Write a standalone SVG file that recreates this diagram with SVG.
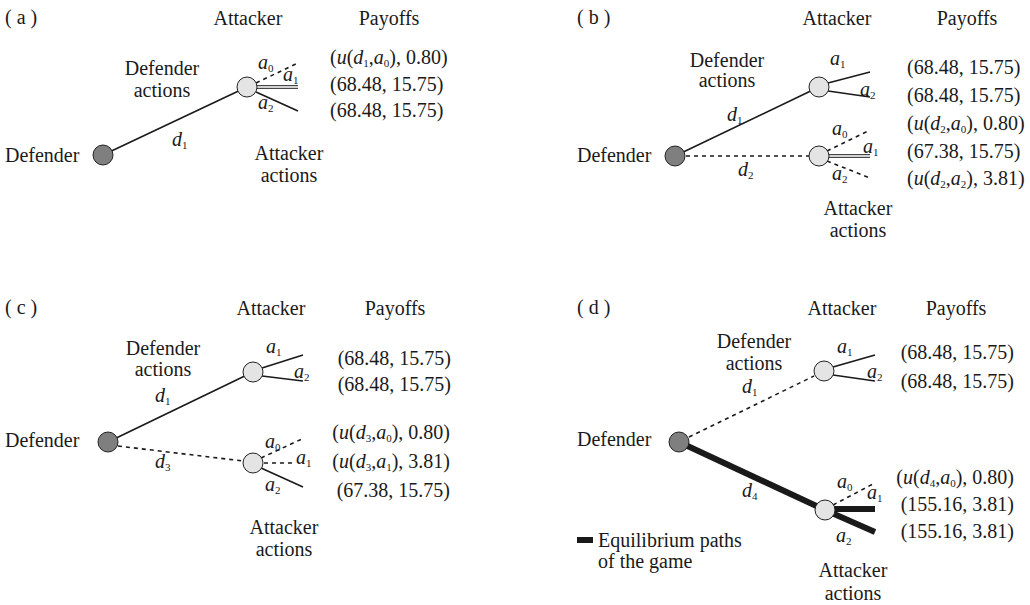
<svg xmlns="http://www.w3.org/2000/svg" width="1030" height="605" viewBox="0 0 1030 605" font-family="'Liberation Serif', serif">
<style>
text{font-family:'Liberation Serif','Tinos','Times New Roman','DejaVu Serif',serif;font-size:20px;fill:#1a1a1a}
.m{text-anchor:middle}
.e{text-anchor:end}
.i{font-style:italic}
.s{font-size:11px;font-style:normal}
.sol{stroke:#1a1a1a;stroke-width:1.6;fill:none}
.dash{stroke:#1a1a1a;stroke-width:1.6;fill:none;stroke-dasharray:4 4}
.dbl{stroke:#1a1a1a;stroke-width:1;fill:none}
.thick{stroke:#1a1a1a;stroke-width:6;fill:none}
.def{fill:#7f7f7f;stroke:#222;stroke-width:1}
.att{fill:#e4e4e4;stroke:#222;stroke-width:1}
</style>
<rect width="1030" height="605" fill="#fff"/>

<!-- ========== Panel (a) ========== -->
<g id="panel-a">
<text x="5" y="24">( a )</text>
<text class="m" x="248" y="25">Attacker</text>
<text class="m" x="389" y="25">Payoffs</text>
<text class="m" x="162" y="75">Defender</text>
<text class="m" x="162" y="97">actions</text>
<text class="m" x="289" y="160">Attacker</text>
<text class="m" x="289" y="182">actions</text>
<text x="172" y="146"><tspan class="i">d</tspan><tspan class="s" dy="3">1</tspan></text>
<text x="258" y="69"><tspan class="i">a</tspan><tspan class="s" dy="3">0</tspan></text>
<text x="283" y="81"><tspan class="i">a</tspan><tspan class="s" dy="3">1</tspan></text>
<text x="258" y="109"><tspan class="i">a</tspan><tspan class="s" dy="3">2</tspan></text>
<text x="330" y="64">(<tspan class="i">u</tspan>(<tspan class="i">d</tspan><tspan class="s" dy="3">1</tspan><tspan dy="-3">,</tspan><tspan class="i">a</tspan><tspan class="s" dy="3">0</tspan><tspan dy="-3">), 0.80)</tspan></text>
<text x="330" y="91">(68.48, 15.75)</text>
<text x="330" y="117">(68.48, 15.75)</text>
</g>
<g id="connectors-a">
<line class="sol" x1="103" y1="155" x2="247" y2="87"/>
<line class="dash" x1="256" y1="83" x2="298" y2="63"/>
<line class="dbl" x1="257" y1="85.7" x2="298" y2="85.7"/>
<line class="dbl" x1="257" y1="88.3" x2="298" y2="88.3"/>
<line class="sol" x1="256" y1="92" x2="298" y2="111"/>
</g>
<g id="node-a-defender"><circle class="def" cx="103" cy="155" r="10"/><text x="5" y="162">Defender</text></g>
<g id="node-a-attacker"><circle class="att" cx="247" cy="87" r="10"/></g>

<!-- ========== Panel (b) ========== -->
<g id="panel-b">
<text x="577" y="24">( b )</text>
<text class="m" x="837" y="25">Attacker</text>
<text class="m" x="967" y="25">Payoffs</text>
<text class="m" x="727" y="67">Defender</text>
<text class="m" x="727" y="87">actions</text>
<text class="m" x="858" y="215">Attacker</text>
<text class="m" x="858" y="237">actions</text>
<text x="727" y="121"><tspan class="i">d</tspan><tspan class="s" dy="3">1</tspan></text>
<text x="738" y="176"><tspan class="i">d</tspan><tspan class="s" dy="3">2</tspan></text>
<text x="830" y="65"><tspan class="i">a</tspan><tspan class="s" dy="3">1</tspan></text>
<text x="860" y="96"><tspan class="i">a</tspan><tspan class="s" dy="3">2</tspan></text>
<text x="832" y="135"><tspan class="i">a</tspan><tspan class="s" dy="3">0</tspan></text>
<text x="863" y="153"><tspan class="i">a</tspan><tspan class="s" dy="3">1</tspan></text>
<text x="832" y="180"><tspan class="i">a</tspan><tspan class="s" dy="3">2</tspan></text>
<text x="907" y="74">(68.48, 15.75)</text>
<text x="907" y="102">(68.48, 15.75)</text>
<text x="907" y="130">(<tspan class="i">u</tspan>(<tspan class="i">d</tspan><tspan class="s" dy="3">2</tspan><tspan dy="-3">,</tspan><tspan class="i">a</tspan><tspan class="s" dy="3">0</tspan><tspan dy="-3">), 0.80)</tspan></text>
<text x="907" y="158">(67.38, 15.75)</text>
<text x="907" y="185">(<tspan class="i">u</tspan>(<tspan class="i">d</tspan><tspan class="s" dy="3">2</tspan><tspan dy="-3">,</tspan><tspan class="i">a</tspan><tspan class="s" dy="3">2</tspan><tspan dy="-3">), 3.81)</tspan></text>
</g>
<g id="connectors-b">
<line class="sol" x1="675" y1="156" x2="819" y2="87"/>
<line class="dash" x1="686" y1="156" x2="809" y2="156"/>
<line class="sol" x1="828" y1="83" x2="870" y2="72"/>
<line class="sol" x1="828" y1="91" x2="870" y2="97"/>
<line class="dash" x1="827" y1="151" x2="870" y2="130"/>
<line class="dbl" x1="829" y1="154.7" x2="870" y2="154.7"/>
<line class="dbl" x1="829" y1="157.3" x2="870" y2="157.3"/>
<line class="dash" x1="827" y1="161" x2="870" y2="178"/>
</g>
<g id="node-b-defender"><circle class="def" cx="675" cy="156" r="10"/><text x="577" y="162">Defender</text></g>
<g id="node-b-attacker1"><circle class="att" cx="819" cy="87" r="10"/></g>
<g id="node-b-attacker2"><circle class="att" cx="819" cy="156" r="10"/></g>

<!-- ========== Panel (c) ========== -->
<g id="panel-c">
<text x="5" y="314">( c )</text>
<text class="m" x="271" y="315">Attacker</text>
<text class="m" x="395" y="315">Payoffs</text>
<text class="m" x="163" y="355">Defender</text>
<text class="m" x="163" y="376">actions</text>
<text class="m" x="284" y="534">Attacker</text>
<text class="m" x="284" y="556">actions</text>
<text x="155" y="402"><tspan class="i">d</tspan><tspan class="s" dy="3">1</tspan></text>
<text x="155" y="468"><tspan class="i">d</tspan><tspan class="s" dy="3">3</tspan></text>
<text x="266" y="353"><tspan class="i">a</tspan><tspan class="s" dy="3">1</tspan></text>
<text x="294" y="378"><tspan class="i">a</tspan><tspan class="s" dy="3">2</tspan></text>
<text x="265" y="448"><tspan class="i">a</tspan><tspan class="s" dy="3">0</tspan></text>
<text x="296" y="464"><tspan class="i">a</tspan><tspan class="s" dy="3">1</tspan></text>
<text x="265" y="491"><tspan class="i">a</tspan><tspan class="s" dy="3">2</tspan></text>
<text class="e" x="451" y="365">(68.48, 15.75)</text>
<text class="e" x="451" y="391">(68.48, 15.75)</text>
<text class="e" x="450" y="439">(<tspan class="i">u</tspan>(<tspan class="i">d</tspan><tspan class="s" dy="3">3</tspan><tspan dy="-3">,</tspan><tspan class="i">a</tspan><tspan class="s" dy="3">0</tspan><tspan dy="-3">), 0.80)</tspan></text>
<text class="e" x="450" y="468">(<tspan class="i">u</tspan>(<tspan class="i">d</tspan><tspan class="s" dy="3">3</tspan><tspan dy="-3">,</tspan><tspan class="i">a</tspan><tspan class="s" dy="3">1</tspan><tspan dy="-3">), 3.81)</tspan></text>
<text class="e" x="450" y="497">(67.38, 15.75)</text>
</g>
<g id="connectors-c">
<line class="sol" x1="108" y1="442" x2="253" y2="372"/>
<line class="dash" x1="118" y1="446" x2="243" y2="461"/>
<line class="sol" x1="262" y1="368" x2="303" y2="355"/>
<line class="sol" x1="262" y1="376" x2="303" y2="381"/>
<line class="dash" x1="261" y1="458" x2="304" y2="438"/>
<line class="dash" x1="264" y1="463" x2="294" y2="463"/>
<line class="sol" x1="261" y1="468" x2="303" y2="487"/>
</g>
<g id="node-c-defender"><circle class="def" cx="108" cy="442" r="10"/><text x="5" y="447">Defender</text></g>
<g id="node-c-attacker1"><circle class="att" cx="253" cy="372" r="10"/></g>
<g id="node-c-attacker2"><circle class="att" cx="253" cy="463" r="10"/></g>

<!-- ========== Panel (d) ========== -->
<g id="panel-d">
<text x="577" y="314">( d )</text>
<text class="m" x="842" y="315">Attacker</text>
<text class="m" x="956" y="315">Payoffs</text>
<text class="m" x="754" y="348">Defender</text>
<text class="m" x="754" y="370">actions</text>
<text class="m" x="853" y="577">Attacker</text>
<text class="m" x="853" y="600">actions</text>
<text x="742" y="393"><tspan class="i">d</tspan><tspan class="s" dy="3">1</tspan></text>
<text x="742" y="497"><tspan class="i">d</tspan><tspan class="s" dy="3">4</tspan></text>
<text x="837" y="353"><tspan class="i">a</tspan><tspan class="s" dy="3">1</tspan></text>
<text x="867" y="378"><tspan class="i">a</tspan><tspan class="s" dy="3">2</tspan></text>
<text x="837" y="488"><tspan class="i">a</tspan><tspan class="s" dy="3">0</tspan></text>
<text x="867" y="499"><tspan class="i">a</tspan><tspan class="s" dy="3">1</tspan></text>
<text x="836" y="542"><tspan class="i">a</tspan><tspan class="s" dy="3">2</tspan></text>
<text class="e" x="1014" y="359">(68.48, 15.75)</text>
<text class="e" x="1014" y="388">(68.48, 15.75)</text>
<text class="e" x="1014" y="484">(<tspan class="i">u</tspan>(<tspan class="i">d</tspan><tspan class="s" dy="3">4</tspan><tspan dy="-3">,</tspan><tspan class="i">a</tspan><tspan class="s" dy="3">0</tspan><tspan dy="-3">), 0.80)</tspan></text>
<text class="e" x="1014" y="511">(155.16, 3.81)</text>
<text class="e" x="1014" y="538">(155.16, 3.81)</text>
<text x="598" y="547">Equilibrium paths</text>
<text x="598" y="568">of the game</text>
</g>
<g id="connectors-d">
<line class="dash" x1="689" y1="437" x2="814" y2="376"/>
<line class="thick" x1="679" y1="442" x2="825" y2="510"/>
<line class="sol" x1="833" y1="367" x2="875" y2="355"/>
<line class="sol" x1="833" y1="375" x2="875" y2="381"/>
<line class="dash" x1="833" y1="505" x2="873" y2="484"/>
<line class="thick" x1="830" y1="509" x2="875" y2="509"/>
<line class="thick" x1="825" y1="510" x2="875" y2="532"/>
<line class="thick" x1="577" y1="540" x2="593" y2="540"/>
</g>
<g id="node-d-defender"><circle class="def" cx="679" cy="442" r="10"/><text x="577" y="446">Defender</text></g>
<g id="node-d-attacker1"><circle class="att" cx="824" cy="371" r="10"/></g>
<g id="node-d-attacker2"><circle class="att" cx="825" cy="510" r="10"/></g>
</svg>
